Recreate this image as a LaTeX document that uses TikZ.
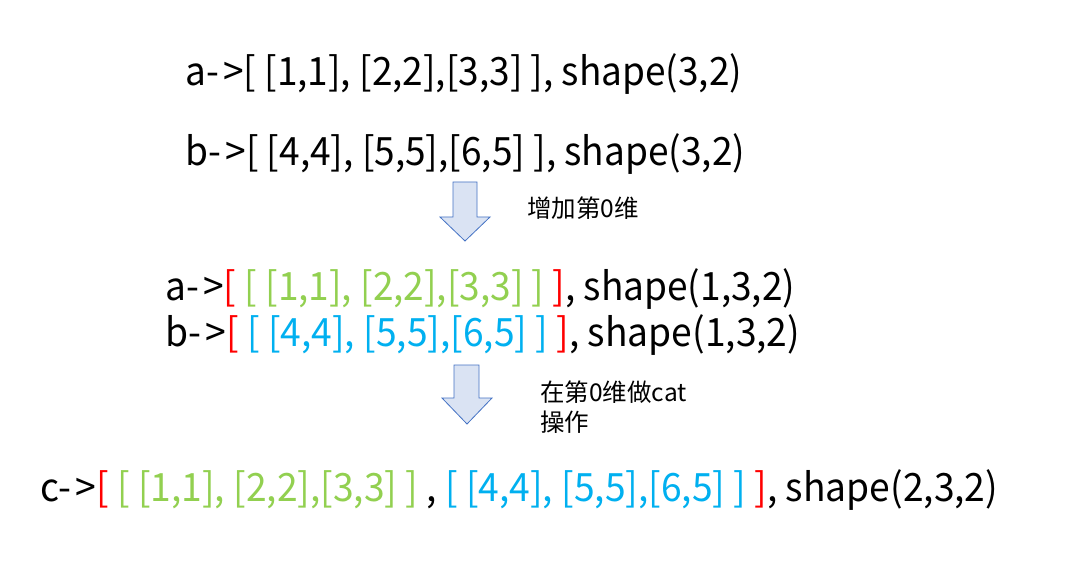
\documentclass[tikz,border=0pt]{standalone}
\usepackage{fontspec}
\usepackage{graphicx}
\setmainfont{Noto Sans CJK SC}
\newfontfamily\cjkfont{Noto Sans CJK SC}
\definecolor{cred}{HTML}{FF0000}
\definecolor{cgreen}{HTML}{92D050}
\definecolor{cblue}{HTML}{00B0F0}
\definecolor{afill}{HTML}{DAE3F3}
\definecolor{aline}{HTML}{4472C4}
\newcommand\fitw[2]{\resizebox{#1}{\height}{#2}}
\newcommand\arr{-\kern0.12em>}
\begin{document}
\begin{tikzpicture}[x=1pt,y=-1pt,
  line/.style={inner sep=0pt,anchor=base west,font=\fontsize{39}{44}\selectfont},
  note/.style={inner sep=0pt,anchor=base west,align=left,font=\cjkfont\fontsize{24.5}{30}\selectfont},
  downarrow/.style={draw=aline,fill=afill,line width=0.8pt,line join=miter}]
\useasboundingbox (0,0) rectangle (1068,577);
\fill[white] (0,0) rectangle (1068,577);
\node[line] (l1) at (185,86) {\fitw{557pt}{a\arr[ [1,1], [2,2],[3,3] ], shape(3,2)}};
\node[line] (l2) at (185,166) {\fitw{560pt}{b\arr[ [4,4], [5,5],[6,5] ], shape(3,2)}};
\draw[downarrow] (453,182) -- (477,182) -- (477,217) -- (490,217) -- (465,241) -- (440,217) -- (453,217) -- cycle;
\node[note] (n1) at (527,218) {增加第0维};
\node[line] (m1) at (165,300) {\fitw{630pt}{a\arr{\color{cred}[} {\color{cgreen}[ [1,1], [2,2],[3,3] ]} {\color{cred}]}, shape(1,3,2)}};
\node[line] (m2) at (165,346) {\fitw{635pt}{b\arr{\color{cred}[} {\color{cblue}[ [4,4], [5,5],[6,5] ]} {\color{cred}]}, shape(1,3,2)}};
\draw[downarrow] (454,365) -- (479,365) -- (479,398) -- (492,398) -- (467,424) -- (442,398) -- (454,398) -- cycle;
\node[note] (n2) at (540,431) {在第0维做cat\\操作};
\node[line] (c) at (40,501) {\fitw{958pt}{c\arr{\color{cred}[} {\color{cgreen}[ [1,1], [2,2],[3,3] ]} , {\color{cblue}[ [4,4], [5,5],[6,5] ]} {\color{cred}]}, shape(2,3,2)}};
\end{tikzpicture}
\end{document}
